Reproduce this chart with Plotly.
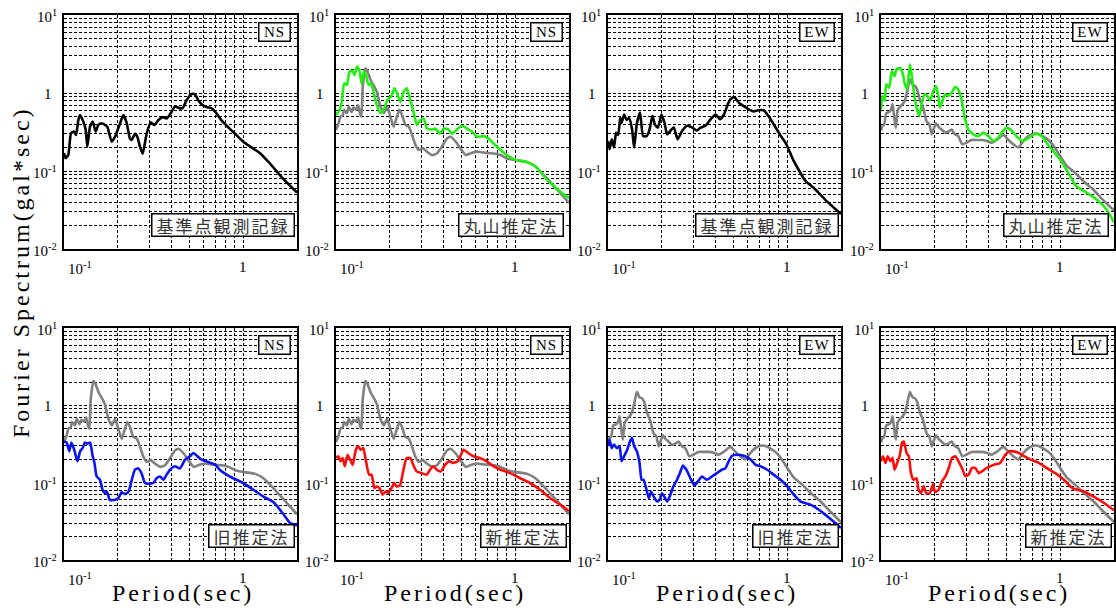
import math
import plotly.graph_objects as go

# ---------------- data: Fourier spectra (period [s], amplitude [gal*sec]) ----------------
# reference-station observed record
ref_ns_t = [0.100, 0.102, 0.1057, 0.1094, 0.1137, 0.1167, 0.1203, 0.1228, 0.1271, 0.1321,
            0.135, 0.1397, 0.1446, 0.1503, 0.1555, 0.1623, 0.1694, 0.1745, 0.1847, 0.1928,
            0.2056, 0.2146, 0.224, 0.2335, 0.2386, 0.249, 0.2567, 0.2657, 0.275, 0.2896,
            0.3049, 0.3195, 0.3367, 0.3556, 0.3744, 0.3942, 0.4168, 0.4407, 0.4598, 0.4839,
            0.516, 0.5384, 0.5617, 0.594, 0.6246, 0.6657, 0.7094, 0.756, 0.841, 0.916,
            1.018, 1.24, 1.41, 1.67, 2.0]
ref_ns_v = [0.170, 0.146, 0.161, 0.304, 0.32, 0.29, 0.45, 0.52, 0.45, 0.34,
            0.205, 0.37, 0.43, 0.32, 0.39, 0.41, 0.39, 0.37, 0.238, 0.275,
            0.41, 0.52, 0.41, 0.26, 0.25, 0.30, 0.275, 0.205, 0.167, 0.304,
            0.42, 0.39, 0.45, 0.49, 0.47, 0.55, 0.67, 0.64, 0.64, 0.81,
            0.97, 0.96, 0.81, 0.70, 0.66, 0.64, 0.55, 0.45, 0.35, 0.29,
            0.23, 0.17, 0.125, 0.080, 0.053]

ref_ew_t = [0.100, 0.102, 0.105, 0.108, 0.111, 0.114, 0.117, 0.119, 0.123, 0.127,
            0.131, 0.136, 0.140, 0.145, 0.151, 0.157, 0.164, 0.170, 0.177, 0.183,
            0.190, 0.199, 0.207, 0.214, 0.226, 0.233, 0.245, 0.260, 0.277, 0.296,
            0.313, 0.329, 0.350, 0.374, 0.399, 0.422, 0.444, 0.467, 0.482, 0.506,
            0.538, 0.572, 0.608, 0.650, 0.690, 0.740, 0.790, 0.840, 0.910, 0.990,
            1.08, 1.17, 1.27, 1.44, 1.63, 2.00]
ref_ew_v = [0.243, 0.19, 0.255, 0.20, 0.31, 0.29, 0.48, 0.41, 0.53, 0.45,
            0.48, 0.35, 0.20, 0.41, 0.56, 0.28, 0.28, 0.33, 0.51, 0.39,
            0.36, 0.53, 0.41, 0.295, 0.34, 0.36, 0.255, 0.33, 0.38, 0.36,
            0.33, 0.36, 0.38, 0.46, 0.53, 0.46, 0.53, 0.72, 0.83, 0.89,
            0.75, 0.68, 0.62, 0.58, 0.60, 0.60, 0.50, 0.40, 0.295, 0.22,
            0.14, 0.10, 0.074, 0.058, 0.043, 0.028]

# target-site observed record (grey)
obs_ns_t = [0.100, 0.1035, 0.106, 0.109, 0.111, 0.115, 0.118, 0.122, 0.125, 0.130,
            0.133, 0.136, 0.1385, 0.141, 0.146, 0.150, 0.156, 0.164, 0.169, 0.177,
            0.185, 0.193, 0.201, 0.210, 0.216, 0.226, 0.234, 0.244, 0.255, 0.266,
            0.278, 0.290, 0.306, 0.322, 0.344, 0.366, 0.390, 0.416, 0.435, 0.465,
            0.495, 0.530, 0.560, 0.613, 0.669, 0.760, 0.830, 0.900, 1.00, 1.17,
            1.30, 1.51, 1.79, 2.00]
obs_ns_v = [0.336, 0.41, 0.50, 0.52, 0.61, 0.55, 0.67, 0.57, 0.65, 0.61,
            0.70, 0.55, 0.50, 1.2, 2.07, 1.88, 1.47, 1.2, 1.04, 0.67,
            0.55, 0.67, 0.50, 0.37, 0.45, 0.61, 0.52, 0.39, 0.37, 0.29,
            0.215, 0.186, 0.195, 0.177, 0.16, 0.168, 0.205, 0.26, 0.275, 0.24,
            0.195, 0.16, 0.168, 0.177, 0.172, 0.168, 0.16, 0.145, 0.138, 0.13,
            0.114, 0.08, 0.052, 0.039]

obs_ew_t = [0.100, 0.102, 0.104, 0.107, 0.111, 0.114, 0.116, 0.119, 0.121, 0.124,
            0.128, 0.132, 0.136, 0.140, 0.145, 0.150, 0.155, 0.159, 0.165, 0.173,
            0.180, 0.186, 0.192, 0.198, 0.203, 0.209, 0.218, 0.228, 0.238, 0.248,
            0.259, 0.270, 0.284, 0.300, 0.320, 0.343, 0.365, 0.389, 0.415, 0.442,
            0.483, 0.515, 0.548, 0.585, 0.624, 0.665, 0.710, 0.750, 0.800, 0.860,
            0.920, 1.00, 1.09, 1.21, 1.35, 1.53, 1.73, 2.00]
obs_ew_v = [0.33, 0.38, 0.39, 0.55, 0.57, 0.62, 0.72, 0.46, 0.36, 0.60,
            0.67, 0.72, 0.81, 1.04, 1.5, 1.27, 1.23, 1.11, 0.81, 0.61,
            0.43, 0.40, 0.295, 0.36, 0.41, 0.37, 0.34, 0.31, 0.32, 0.34,
            0.295, 0.28, 0.22, 0.23, 0.25, 0.25, 0.25, 0.243, 0.23, 0.25,
            0.29, 0.25, 0.22, 0.20, 0.243, 0.28, 0.30, 0.30, 0.28, 0.25,
            0.21, 0.156, 0.116, 0.095, 0.074, 0.058, 0.043, 0.031]

# Maruyama method estimate (green)
maru_ns_t = [0.100, 0.105, 0.108, 0.111, 0.115, 0.119, 0.123, 0.127, 0.131, 0.135,
             0.139, 0.143, 0.147, 0.152, 0.157, 0.162, 0.169, 0.177, 0.185, 0.193,
             0.203, 0.212, 0.219, 0.229, 0.239, 0.249, 0.260, 0.272, 0.283, 0.296,
             0.309, 0.322, 0.344, 0.359, 0.379, 0.399, 0.425, 0.444, 0.473, 0.505,
             0.539, 0.575, 0.613, 0.669, 0.711, 0.792, 0.900, 1.00, 1.17, 1.30,
             1.51, 1.79, 2.00]
maru_ns_v = [0.52, 0.61, 0.81, 1.33, 1.27, 1.88, 1.93, 1.70, 2.18, 1.97,
             1.33, 1.88, 1.70, 1.27, 1.33, 1.04, 0.70, 0.55, 0.61, 0.81,
             0.90, 1.15, 0.99, 0.77, 1.04, 1.15, 0.81, 0.55, 0.39, 0.45,
             0.47, 0.35, 0.34, 0.35, 0.30, 0.35, 0.34, 0.30, 0.34, 0.38,
             0.35, 0.32, 0.275, 0.28, 0.26, 0.205, 0.16, 0.14, 0.13, 0.114,
             0.077, 0.054, 0.045]

maru_ew_t = [0.100, 0.102, 0.105, 0.107, 0.111, 0.115, 0.119, 0.122, 0.128, 0.132,
             0.136, 0.140, 0.145, 0.148, 0.153, 0.158, 0.164, 0.169, 0.175, 0.181,
             0.188, 0.196, 0.203, 0.209, 0.213, 0.221, 0.228, 0.238, 0.248, 0.259,
             0.270, 0.282, 0.294, 0.307, 0.328, 0.350, 0.373, 0.398, 0.424, 0.452,
             0.483, 0.503, 0.536, 0.570, 0.610, 0.650, 0.690, 0.740, 0.790, 0.840,
             0.900, 1.00, 1.11, 1.23, 1.40, 1.60, 1.82, 2.00]
maru_ew_v = [0.62, 0.92, 0.80, 1.29, 1.17, 1.91, 1.65, 2.01, 2.1, 1.8,
             1.29, 1.12, 2.33, 1.8, 0.99, 0.65, 0.51, 0.75, 0.96, 0.92,
             0.81, 1.06, 1.23, 0.92, 0.65, 0.81, 0.96, 0.92, 1.0, 1.2,
             1.11, 0.81, 0.48, 0.34, 0.295, 0.28, 0.31, 0.28, 0.243, 0.27,
             0.33, 0.36, 0.33, 0.28, 0.243, 0.255, 0.28, 0.30, 0.28, 0.23,
             0.19, 0.14, 0.095, 0.064, 0.053, 0.043, 0.032, 0.022]

# old estimation method (blue)
old_ns_t = [0.100, 0.1035, 0.107, 0.110, 0.114, 0.119, 0.123, 0.127, 0.131, 0.135,
            0.140, 0.144, 0.148, 0.152, 0.159, 0.164, 0.169, 0.174, 0.180, 0.193,
            0.201, 0.210, 0.219, 0.229, 0.239, 0.249, 0.260, 0.271, 0.283, 0.296,
            0.315, 0.329, 0.344, 0.359, 0.374, 0.391, 0.417, 0.444, 0.474, 0.505,
            0.527, 0.550, 0.587, 0.640, 0.700, 0.740, 0.810, 0.880, 1.00, 1.14,
            1.30, 1.49, 1.68, 1.83, 2.00]
old_ns_v = [0.34, 0.33, 0.254, 0.33, 0.267, 0.189, 0.254, 0.28, 0.33, 0.32,
            0.33, 0.23, 0.18, 0.121, 0.109, 0.081, 0.073, 0.076, 0.060, 0.060,
            0.063, 0.075, 0.071, 0.076, 0.109, 0.147, 0.153, 0.132, 0.099, 0.097,
            0.099, 0.114, 0.12, 0.109, 0.127, 0.147, 0.163, 0.153, 0.198, 0.219,
            0.242, 0.225, 0.198, 0.185, 0.17, 0.147, 0.127, 0.114, 0.099, 0.081,
            0.066, 0.055, 0.039, 0.030, 0.028]

old_ew_t = [0.100, 0.102, 0.105, 0.108, 0.112, 0.116, 0.119, 0.123, 0.128, 0.132,
            0.136, 0.140, 0.145, 0.150, 0.154, 0.158, 0.164, 0.169, 0.174, 0.180,
            0.188, 0.194, 0.200, 0.206, 0.214, 0.223, 0.232, 0.243, 0.252, 0.262,
            0.274, 0.288, 0.304, 0.317, 0.335, 0.357, 0.380, 0.405, 0.432, 0.452,
            0.472, 0.493, 0.525, 0.573, 0.625, 0.667, 0.710, 0.775, 0.840, 0.920,
            1.00, 1.09, 1.19, 1.35, 1.50, 1.67, 1.86, 2.00]
old_ew_v = [0.295, 0.36, 0.28, 0.31, 0.28, 0.295, 0.189, 0.22, 0.267, 0.33,
            0.38, 0.295, 0.254, 0.18, 0.109, 0.109, 0.081, 0.063, 0.076, 0.066,
            0.057, 0.06, 0.073, 0.066, 0.057, 0.07, 0.09, 0.109, 0.133, 0.166,
            0.147, 0.115, 0.092, 0.103, 0.12, 0.109, 0.12, 0.133, 0.147, 0.153,
            0.189, 0.223, 0.23, 0.223, 0.20, 0.17, 0.163, 0.147, 0.127, 0.109,
            0.09, 0.07, 0.057, 0.052, 0.045, 0.037, 0.030, 0.026]

# new estimation method (red)
new_ns_t = [0.100, 0.103, 0.106, 0.109, 0.112, 0.116, 0.120, 0.124, 0.129, 0.133,
            0.137, 0.142, 0.147, 0.153, 0.158, 0.164, 0.169, 0.175, 0.182, 0.190,
            0.196, 0.204, 0.211, 0.218, 0.228, 0.238, 0.248, 0.260, 0.270, 0.282,
            0.300, 0.321, 0.335, 0.350, 0.365, 0.385, 0.406, 0.430, 0.450, 0.480,
            0.515, 0.550, 0.585, 0.635, 0.690, 0.760, 0.830, 0.940, 1.06, 1.21,
            1.38, 1.57, 1.79, 2.00]
new_ns_v = [0.208, 0.22, 0.19, 0.208, 0.163, 0.23, 0.198, 0.17, 0.267, 0.295,
            0.267, 0.28, 0.19, 0.127, 0.127, 0.085, 0.089, 0.085, 0.070, 0.077,
            0.074, 0.085, 0.099, 0.089, 0.093, 0.147, 0.208, 0.208, 0.17, 0.14,
            0.133, 0.127, 0.147, 0.163, 0.147, 0.14, 0.17, 0.19, 0.18, 0.19,
            0.267, 0.24, 0.22, 0.208, 0.19, 0.163, 0.147, 0.133, 0.115, 0.099,
            0.081, 0.063, 0.052, 0.043]

new_ew_t = [0.100, 0.1026, 0.106, 0.109, 0.113, 0.116, 0.119, 0.123, 0.127, 0.131,
            0.134, 0.139, 0.143, 0.147, 0.152, 0.158, 0.162, 0.167, 0.173, 0.179,
            0.187, 0.195, 0.200, 0.210, 0.219, 0.229, 0.239, 0.249, 0.260, 0.271,
            0.283, 0.296, 0.309, 0.322, 0.336, 0.351, 0.366, 0.390, 0.425, 0.463,
            0.495, 0.518, 0.550, 0.590, 0.630, 0.680, 0.760, 0.840, 0.940, 1.05,
            1.17, 1.36, 1.54, 1.75, 2.00]
new_ew_v = [0.189, 0.22, 0.18, 0.22, 0.189, 0.21, 0.147, 0.18, 0.22, 0.326,
            0.34, 0.242, 0.22, 0.133, 0.109, 0.114, 0.081, 0.073, 0.09, 0.073,
            0.073, 0.095, 0.076, 0.081, 0.104, 0.121, 0.155, 0.208, 0.22, 0.189,
            0.155, 0.121, 0.127, 0.155, 0.155, 0.133, 0.14, 0.155, 0.17, 0.18,
            0.23, 0.254, 0.254, 0.242, 0.22, 0.20, 0.18, 0.155, 0.133, 0.109,
            0.085, 0.077, 0.066, 0.055, 0.044]

# panel labels
method_labels = ["基準点観測記録", "丸山推定法", "旧推定法", "新推定法"]
direction_labels = ["NS", "EW"]
x_title = "Period(sec)"
y_title = "Fourier Spectrum(gal*sec)"

# ---------------- layout geometry (pixels) ----------------
W, H = 1116, 616
COL_LEFT = [64, 336, 608, 881]
PW = 233
ROW_TOP = [15, 328]
ROW_BOT = [249, 560]
X_MIN, X_MAX = 0.1, 2.0
Y_MIN, Y_MAX = 0.01, 10.0

BLACK, GREY, GREEN, BLUE, RED = "#000000", "#808080", "#22ee11", "#0a14f0", "#ff0a0a"
SERIF = "Liberation Serif"
CJK = "Noto Sans CJK JP"

# (row, col, direction index, method index, [(t, v, colour), ...])
panels = [
    (0, 0, 0, 0, [(ref_ns_t, ref_ns_v, BLACK)]),
    (0, 1, 0, 1, [(obs_ns_t, obs_ns_v, GREY), (maru_ns_t, maru_ns_v, GREEN)]),
    (0, 2, 1, 0, [(ref_ew_t, ref_ew_v, BLACK)]),
    (0, 3, 1, 1, [(obs_ew_t, obs_ew_v, GREY), (maru_ew_t, maru_ew_v, GREEN)]),
    (1, 0, 0, 2, [(obs_ns_t, obs_ns_v, GREY), (old_ns_t, old_ns_v, BLUE)]),
    (1, 1, 0, 3, [(obs_ns_t, obs_ns_v, GREY), (new_ns_t, new_ns_v, RED)]),
    (1, 2, 1, 2, [(obs_ew_t, obs_ew_v, GREY), (old_ew_t, old_ew_v, BLUE)]),
    (1, 3, 1, 3, [(obs_ew_t, obs_ew_v, GREY), (new_ew_t, new_ew_v, RED)]),
]

x_grid = [k / 10 for k in range(2, 11)]
y_grid = [k * 10 ** e for e in (-2, -1, 0) for k in range(1, 10)] + [10.0]


def px_x(p):
    return p / W


def px_y(p):
    return 1 - p / H


fig = go.Figure()
layout = dict(
    width=W, height=H,
    margin=dict(l=0, r=0, t=0, b=0),
    paper_bgcolor="white", plot_bgcolor="white",
    showlegend=False,
)
annotations = []

axis_common = dict(
    type="log", showgrid=True, gridcolor="black", gridwidth=1, griddash="3px,2px",
    showline=True, linecolor="black", linewidth=1.5, mirror=True,
    ticks="", showticklabels=False, zeroline=False, fixedrange=True,
)

for i, (r, c, d, m, series) in enumerate(panels, start=1):
    left, top, bot = COL_LEFT[c], ROW_TOP[r], ROW_BOT[r]
    right = left + PW
    suffix = "" if i == 1 else str(i)
    layout["xaxis" + suffix] = dict(
        axis_common, domain=[px_x(left), px_x(right)], anchor="y" + suffix,
        range=[math.log10(X_MIN), math.log10(X_MAX)], tickvals=x_grid,
    )
    layout["yaxis" + suffix] = dict(
        axis_common, domain=[px_y(bot), px_y(top)], anchor="x" + suffix,
        range=[math.log10(Y_MIN), math.log10(Y_MAX)], tickvals=y_grid,
    )
    for t, v, colour in series:
        fig.add_trace(go.Scatter(
            x=t, y=v, mode="lines", xaxis="x" + suffix, yaxis="y" + suffix,
            line=dict(color=colour, width=2.6, shape="spline", smoothing=0.5),
            hoverinfo="skip",
        ))

    # y tick labels
    ph = bot - top
    for lv, txt in [(1, "10<sup>1</sup>"), (0, "1"), (-1, "10<sup>-1</sup>"), (-2, "10<sup>-2</sup>")]:
        py = top + (1 - lv) * ph / 3
        annotations.append(dict(
            text=txt, xref="paper", yref="paper", showarrow=False,
            x=px_x(left - (10 if lv == 0 else 5)), xanchor="right",
            y=px_y(py + 1), yanchor="middle",
            font=dict(family=SERIF, size=15, color="black"),
        ))
    # x tick labels
    decade = PW / math.log10(X_MAX / X_MIN)
    annotations.append(dict(
        text="10<sup>-1</sup>", xref="paper", yref="paper", showarrow=False,
        x=px_x(left + 2), xanchor="left", y=px_y(bot + 19), yanchor="middle",
        font=dict(family=SERIF, size=15, color="black"),
    ))
    annotations.append(dict(
        text="1", xref="paper", yref="paper", showarrow=False,
        x=px_x(left + decade), xanchor="center", y=px_y(bot + 18), yanchor="middle",
        font=dict(family=SERIF, size=15, color="black"),
    ))

    # direction box (top right)
    dl = direction_labels[d]
    annotations.append(dict(
        text='<span style="letter-spacing:1px">' + dl + "</span>",
        xref="paper", yref="paper", showarrow=False,
        x=px_x(right - 6), xanchor="right", y=px_y(top + 7), yanchor="top",
        width=28 if dl == "NS" else 31, height=15, borderpad=1,
        bgcolor="white", bordercolor="black", borderwidth=1.5,
        font=dict(family=SERIF, size=15, color="black"),
    ))
    # method box (bottom right)
    ml = method_labels[m]
    annotations.append(dict(
        text='<span style="letter-spacing:2px">' + ml + "</span>",
        xref="paper", yref="paper", showarrow=False,
        x=px_x(right - (5 if m == 1 else 2)), xanchor="right",
        y=px_y(bot - 12), yanchor="bottom",
        width=19 * len(ml) + 6, height=19, borderpad=1,
        bgcolor="white", bordercolor="black", borderwidth=1.5,
        font=dict(family=CJK, size=17, color="#333333"),
    ))

# axis titles
for c in range(4):
    annotations.append(dict(
        text='<span style="letter-spacing:3px">' + x_title + "</span>",
        xref="paper", yref="paper", showarrow=False,
        x=px_x(COL_LEFT[c] + PW / 2 + 2), xanchor="center",
        y=px_y(593), yanchor="middle",
        font=dict(family=SERIF, size=24, color="black"),
    ))
annotations.append(dict(
    text='<span style="letter-spacing:3px">' + y_title + "</span>",
    xref="paper", yref="paper", showarrow=False, textangle=-90,
    x=px_x(21), xanchor="center", y=px_y(272), yanchor="middle",
    font=dict(family=SERIF, size=24, color="black"),
))

layout["annotations"] = annotations
fig.update_layout(**layout)
fig.write_html("out.html")
